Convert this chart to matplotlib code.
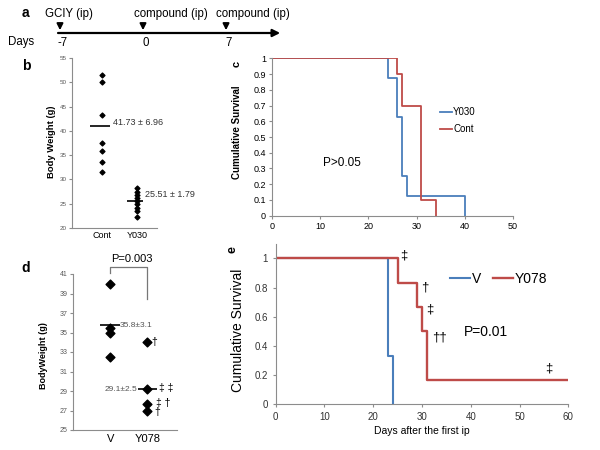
import numpy as np
import matplotlib
matplotlib.use("Agg")
import matplotlib.pyplot as plt

plt.rcParams['font.family'] = ['Liberation Sans', 'DejaVu Sans']

# ---- data ----
timeline_days = [-7, 0, 7]
timeline_labels = ['GCIY (ip)', 'compound (ip)', 'compound (ip)']

b_groups = ['Cont', 'Y030']
b_cont = [51.6, 50.0, 43.2, 37.5, 35.8, 33.5, 31.6]
b_y030 = [28.2, 27.4, 26.7, 26.1, 25.6, 24.9, 24.2, 23.4, 22.3]
b_means = [40.9, 25.6]
b_mean_text = ['41.73 \u00b1 6.96', '25.51 \u00b1 1.79']
b_text_y = [41.8, 26.8]

c_y030_days = [0, 24, 26, 27, 28, 40]
c_y030_surv = [1, 0.875, 0.625, 0.25, 0.125, 0]
c_cont_days = [0, 26, 27, 31, 34]
c_cont_surv = [1, 0.9, 0.7, 0.1, 0]

d_groups = ['V', 'Y078']
d_v = [40.0, 35.5, 35.0, 32.5]
d_y078 = [34.0, 29.2, 27.7, 27.0]
d_means = [35.75, 29.2]
d_mean_text = ['35.8\u00b13.1', '29.1\u00b12.5']
d_marks = ['\u2020', '\u2021 \u2021', '\u2021 \u2020', '\u2020']
d_marks_y = [34.0, 29.3, 27.75, 26.8]
d_marks_x = [2.2, 2.5, 2.42, 2.28]

e_v_days = [0, 23, 24]
e_v_surv = [1, 0.333, 0]
e_y078_days = [0, 25, 29, 30, 31, 60]
e_y078_surv = [1, 0.833, 0.667, 0.5, 0.167, 0.167]
e_marks = ['\u2021', '\u2020', '\u2021', '\u2020\u2020', '\u2021']
e_marks_x = [26.2, 30.6, 31.6, 33.6, 55.9]
e_marks_y = [1.016, 0.80, 0.646, 0.46, 0.247]

blue = '#4A7EBB'
red = '#BE4B48'
spine_col = '#8C8C8C'
tick_col = '#595959'

W, H = 600, 450
def box(l, t, r, b):
    return [l / W, 1 - b / H, (r - l) / W, (b - t) / H]

def style(ax):
    for s in ['top', 'right']:
        ax.spines[s].set_visible(False)
    for s in ['left', 'bottom']:
        ax.spines[s].set_color(spine_col)
        ax.spines[s].set_linewidth(0.8)
    ax.tick_params(color=spine_col, length=2.5, width=0.8, direction='out')

fig = plt.figure(figsize=(6, 4.5), dpi=100)

# ---- panel a: timeline ----
ax_a = fig.add_axes([0, 1 - 60 / H, 1, 60 / H])
ax_a.set_xlim(-143 / 11.86, (600 - 143) / 11.86)
ax_a.set_ylim(60, 0)
ax_a.axis('off')
ax_a.annotate('', xy=(11.8, 33), xytext=(-7.4, 33),
              arrowprops=dict(arrowstyle='-|>', color='black', lw=1.6, mutation_scale=11))
offsets = [-1.3, -0.8, -0.85]
for d, lab, off in zip(timeline_days, timeline_labels, offsets):
    ax_a.annotate('', xy=(d, 33), xytext=(d, 21),
                  arrowprops=dict(arrowstyle='-|>', color='black', lw=1.4, mutation_scale=9))
    ax_a.text(d + off, 14, lab, ha='left', va='center', fontsize=8.3)
    ax_a.text(d + 0.25, 43, str(d), ha='center', va='center', fontsize=8.3)
ax_a.text(-11.4, 42, 'Days', ha='left', va='center', fontsize=8.3)
ax_a.text(-9.95, 13, 'a', ha='center', va='center', fontsize=10, fontweight='bold')

# ---- panel b ----
ax_b = fig.add_axes(box(72, 58, 157, 228))
style(ax_b)
ax_b.set_xlim(0.143, 2.571)
ax_b.set_ylim(20, 55)
ax_b.set_yticks(np.arange(20, 56, 5))
ax_b.set_xticks([1, 2])
ax_b.set_xticklabels(b_groups, fontsize=6.5)
ax_b.tick_params(axis='y', labelsize=4.5, labelcolor=tick_col, pad=1.5)
ax_b.tick_params(axis='x', length=0, pad=2.5)
ax_b.scatter([1] * len(b_cont), b_cont, marker='D', s=6, color='black', zorder=3)
ax_b.scatter([2] * len(b_y030), b_y030, marker='D', s=6, color='black', zorder=3)
ax_b.hlines(b_means, [1 - 0.34, 2 - 0.29], [1 + 0.23, 2 + 0.17], color='black', lw=1.2)
for x, y, t in zip([1.31, 2.23], b_text_y, b_mean_text):
    ax_b.text(x, y, t, ha='left', va='center', fontsize=6.5, color='#333333')
fig.text(51 / W, 1 - 142 / H, 'Body Weight (g)', rotation=90, ha='center', va='center',
         fontsize=6.8, fontweight='bold')
fig.text(26 / W, 1 - 66 / H, 'b', ha='center', va='center', fontsize=10, fontweight='bold')

# ---- panel c ----
ax_c = fig.add_axes(box(272.3, 58.3, 512.7, 215.7))
style(ax_c)
ax_c.step(c_y030_days, c_y030_surv, where='post', color=blue, lw=1.3, label='Y030')
ax_c.step(c_cont_days, c_cont_surv, where='post', color=red, lw=1.3, label='Cont')
ax_c.set_xlim(0, 50)
ax_c.set_ylim(0, 1)
ax_c.set_xticks(np.arange(0, 51, 10))
yt = np.round(np.arange(0, 1.01, 0.1), 1)
ax_c.set_yticks(yt)
ax_c.set_yticklabels(['0' if v == 0 else ('1' if v == 1 else f'{v:g}') for v in yt])
ax_c.tick_params(labelsize=6.5, pad=2)
ax_c.legend(loc='upper left', bbox_to_anchor=(0.698, 0.69), frameon=False, fontsize=7,
            handlelength=1.25, handletextpad=0.1, labelspacing=0.75, borderpad=0, borderaxespad=0)
ax_c.text(10.6, 0.337, 'P>0.05', ha='left', va='center', fontsize=8.5)
fig.text(237 / W, 1 - 132 / H, 'Cumulative Survival', rotation=90, ha='center', va='center',
         fontsize=7, fontweight='bold')
fig.text(237 / W, 1 - 64 / H, 'c', rotation=90, ha='center', va='center',
         fontsize=8, fontweight='bold')

# ---- panel d ----
ax_d = fig.add_axes(box(73, 274, 177, 430))
style(ax_d)
ax_d.set_xlim(0, 2.8)
ax_d.set_ylim(25, 41)
ax_d.set_yticks(np.arange(25, 42, 2))
ax_d.set_xticks([1, 2])
ax_d.set_xticklabels(d_groups, fontsize=8)
ax_d.tick_params(axis='y', labelsize=5, labelcolor=tick_col, pad=1.5)
ax_d.tick_params(axis='x', length=0, pad=3)
ax_d.scatter([1] * len(d_v), d_v, marker='D', s=20, color='black', zorder=3)
ax_d.scatter([2] * len(d_y078), d_y078, marker='D', s=20, color='black', zorder=3)
ax_d.hlines(d_means, [1 - 0.27, 2 - 0.24], [1 + 0.27, 2 + 0.27], color='black', lw=1.2)
ax_d.text(1.25, d_means[0], d_mean_text[0], ha='left', va='center', fontsize=6, color='#555555')
ax_d.text(1.73, d_means[1], d_mean_text[1], ha='right', va='center', fontsize=6, color='#555555')
for x, y, t in zip(d_marks_x, d_marks_y, d_marks):
    ax_d.text(x, y, t, ha='center', va='center', fontsize=7.5)
ax_d.plot([1, 1, 2, 2], [41.1, 41.75, 41.75, 38.4], color='#777777', lw=0.9, clip_on=False)
ax_d.text(1.59, 42.55, 'P=0.003', ha='center', va='center', fontsize=8)
fig.text(43 / W, 1 - 356 / H, 'BodyWeight (g)', rotation=90, ha='center', va='center',
         fontsize=6.5, fontweight='bold')
fig.text(26 / W, 1 - 268 / H, 'd', ha='center', va='center', fontsize=10, fontweight='bold')

# ---- panel e ----
ax_e = fig.add_axes(box(275.7, 243.7, 568.3, 404.3))
style(ax_e)
ax_e.step(e_v_days, e_v_surv, where='post', color=blue, lw=1.5, label='V')
ax_e.step(e_y078_days, e_y078_surv, where='post', color=red, lw=1.7, label='Y078')
ax_e.set_xlim(0, 60)
ax_e.set_ylim(0, 1.1)
ax_e.set_xticks(np.arange(0, 61, 10))
yt = np.round(np.arange(0, 1.01, 0.2), 1)
ax_e.set_yticks(yt)
ax_e.set_yticklabels(['0' if v == 0 else ('1' if v == 1 else f'{v:g}') for v in yt])
ax_e.tick_params(labelsize=7, labelcolor='#333333', pad=3)
ax_e.legend(loc='center left', bbox_to_anchor=(0.596, 0.78), frameon=False, fontsize=10, ncol=2,
            handlelength=1.45, handletextpad=0.1, columnspacing=0.85, borderpad=0, borderaxespad=0)
for x, y, t in zip(e_marks_x, e_marks_y, e_marks):
    ax_e.text(x, y, t, ha='center', va='center', fontsize=9.5)
ax_e.text(38.6, 0.498, 'P=0.01', ha='left', va='center', fontsize=10)
ax_e.set_xlabel('Days after the first ip', fontsize=7.5, labelpad=3)
fig.text(238 / W, 1 - 330 / H, 'Cumulative Survival', rotation=90, ha='center', va='center',
         fontsize=10)
fig.text(232 / W, 1 - 250 / H, 'e', rotation=90, ha='center', va='center',
         fontsize=9, fontweight='bold')

fig.savefig('out.png', dpi=100)
